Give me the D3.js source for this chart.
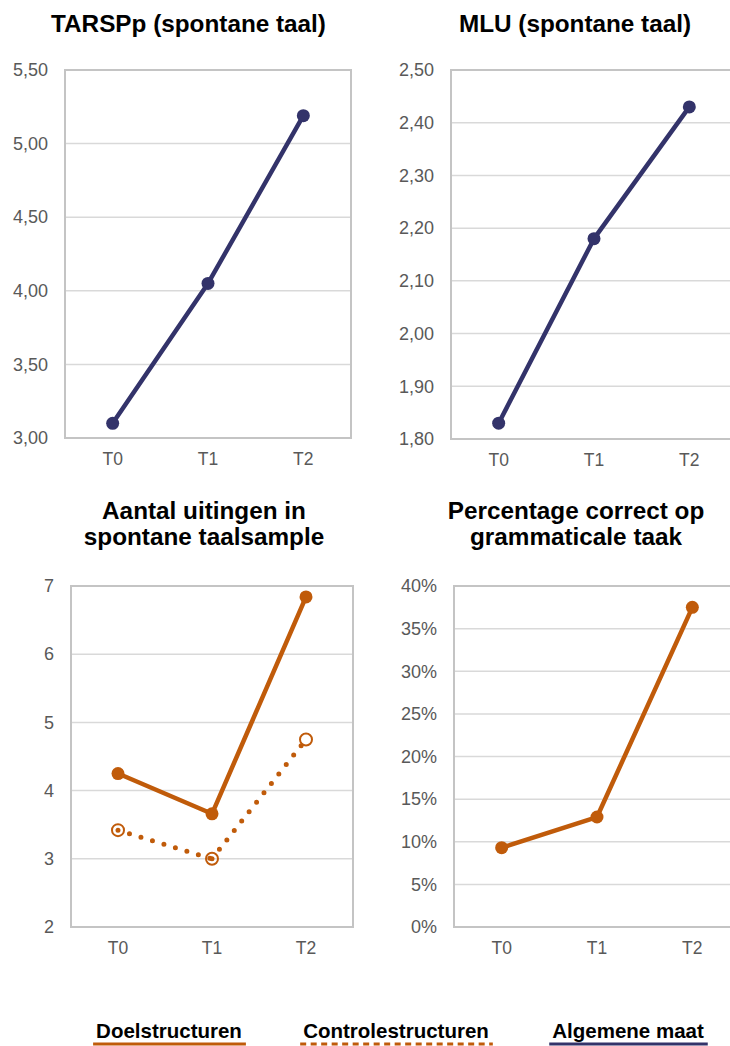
<!DOCTYPE html>
<html>
<head>
<meta charset="utf-8">
<script src="https://cdn.jsdelivr.net/npm/d3@7"></script>
<style>
  html, body { margin: 0; padding: 0; background: #fff; }
  svg { display: block; font-family: "Liberation Sans", Arial, sans-serif; }
</style>
</head>
<body>
<svg id="chart" width="730" height="1046"></svg>
<script>
// data
const timePoints = ['T0', 'T1', 'T2'];
const tarspValues = [3.10, 4.05, 5.19];
const mluValues = [1.83, 2.18, 2.43];
const doelUitingen = [4.25, 3.66, 6.84];
const controleUitingen = [3.42, 3.00, 4.75];
const grammaticaCorrect = [0.093, 0.129, 0.375];

const tarspTicks = [3.0, 3.5, 4.0, 4.5, 5.0, 5.5];
const mluTicks = [1.8, 1.9, 2.0, 2.1, 2.2, 2.3, 2.4, 2.5];
const uitingenTicks = [2, 3, 4, 5, 6, 7];
const percentTicks = [0, 0.05, 0.10, 0.15, 0.20, 0.25, 0.30, 0.35, 0.40];

const legendLabels = ['Doelstructuren', 'Controlestructuren', 'Algemene maat'];

const orange = '#c05b0a';
const navy = '#33336a';
const gray = '#595959';

const svg = d3.select('#chart');

const comma2 = (v) => d3.format('.2f')(v).replace('.', ',');
const pct = d3.format('.0%');

function drawPanel({ box, title, titleX, titleY, ticks, fmt, series }) {
    const [x0, x1, y0, y1] = box;
    const g = svg.append('g');

    const x = d3.scaleBand().domain(timePoints).range([x0, x1]);
    const y = d3.scaleLinear().domain(d3.extent(ticks)).range([y1, y0]);

    // gridlines
    g.selectAll('.grid')
        .data(ticks.slice(1, -1))
        .join('line')
        .attr('x1', x0).attr('x2', x1)
        .attr('y1', (d) => y(d)).attr('y2', (d) => y(d))
        .attr('stroke', '#d9d9d9')
        .attr('stroke-width', 1.5);

    // plot frame
    g.append('rect')
        .attr('x', x0).attr('y', y0)
        .attr('width', x1 - x0).attr('height', y1 - y0)
        .attr('fill', 'none')
        .attr('stroke', '#c4c4c4')
        .attr('stroke-width', 2);

    // y axis labels
    const yAxis = d3.axisLeft(y).tickValues(ticks).tickFormat(fmt).tickSize(0).tickPadding(17);
    g.append('g')
        .attr('transform', `translate(${x0},0)`)
        .call(yAxis)
        .call((s) => s.select('.domain').remove())
        .selectAll('text')
        .attr('fill', gray)
        .style('font-size', '18px')
        .style('font-family', '"Liberation Sans", Arial, sans-serif');

    // x axis labels
    const xAxis = d3.axisBottom(x).tickSize(0).tickPadding(15);
    g.append('g')
        .attr('transform', `translate(0,${y1})`)
        .call(xAxis)
        .call((s) => s.select('.domain').remove())
        .selectAll('text')
        .attr('fill', gray)
        .style('font-size', '17.5px')
        .style('font-family', '"Liberation Sans", Arial, sans-serif');

    // title
    g.append('text')
        .attr('text-anchor', 'middle')
        .attr('font-weight', 'bold')
        .style('font-size', '24.3px')
        .attr('fill', '#000')
        .selectAll('tspan')
        .data(title)
        .join('tspan')
        .attr('x', titleX)
        .attr('y', (d, i) => titleY + i * 26)
        .text((d) => d);

    const line = d3.line()
        .x((d, i) => x(timePoints[i]) + x.bandwidth() / 2)
        .y((d) => y(d));

    series.forEach((s) => {
        const pts = s.values.map((v, i) => [x(timePoints[i]) + x.bandwidth() / 2, y(v)]);
        if (s.dotted) {
            // each segment starts its own dot pattern
            d3.pairs(pts).forEach((pair) => {
                g.append('path')
                    .attr('d', d3.line()(pair))
                    .attr('fill', 'none')
                    .attr('stroke', s.color)
                    .attr('stroke-width', 5)
                    .attr('stroke-linecap', 'round')
                    .attr('stroke-dasharray', '0 12');
            });
            g.selectAll(null)
                .data(pts)
                .join('circle')
                .attr('cx', (d) => d[0]).attr('cy', (d) => d[1])
                .attr('r', 6)
                .attr('fill', 'none')
                .attr('stroke', s.color)
                .attr('stroke-width', 2);
        } else {
            g.append('path')
                .datum(s.values)
                .attr('d', line)
                .attr('fill', 'none')
                .attr('stroke', s.color)
                .attr('stroke-width', 4.5)
                .attr('stroke-linejoin', 'round');
            g.selectAll(null)
                .data(pts)
                .join('circle')
                .attr('cx', (d) => d[0]).attr('cy', (d) => d[1])
                .attr('r', 6.5)
                .attr('fill', s.color);
        }
    });
}

drawPanel({
    box: [65, 351, 70, 438],
    title: ['TARSPp (spontane taal)'],
    titleX: 188.5,
    titleY: 32,
    ticks: tarspTicks,
    fmt: comma2,
    series: [{ values: tarspValues, color: navy }]
});

drawPanel({
    box: [451, 737, 70, 439],
    title: ['MLU (spontane taal)'],
    titleX: 575,
    titleY: 32,
    ticks: mluTicks,
    fmt: comma2,
    series: [{ values: mluValues, color: navy }]
});

drawPanel({
    box: [71, 353, 586, 927],
    title: ['Aantal uitingen in', 'spontane taalsample'],
    titleX: 204,
    titleY: 519,
    ticks: uitingenTicks,
    fmt: d3.format('d'),
    series: [
        { values: controleUitingen, color: orange, dotted: true },
        { values: doelUitingen, color: orange }
    ]
});

drawPanel({
    box: [454, 740, 586, 927],
    title: ['Percentage correct op', 'grammaticale taak'],
    titleX: 576,
    titleY: 519,
    ticks: percentTicks,
    fmt: pct,
    series: [{ values: grammaticaCorrect, color: orange }]
});

// legend
const legendX = [169, 396, 628];
const legendStyles = [
    { color: orange, dash: null },
    { color: orange, dash: '6 4.5' },
    { color: navy, dash: null }
];
const legend = svg.append('g')
    .selectAll('g')
    .data(legendLabels)
    .join('g')
    .attr('transform', (d, i) => `translate(${legendX[i]},1038)`);

legend.append('text')
    .attr('text-anchor', 'middle')
    .attr('font-weight', 'bold')
    .style('font-size', '20.5px')
    .attr('fill', '#000')
    .text((d) => d);

legend.each(function (d, i) {
    const w = this.querySelector('text').getComputedTextLength();
    d3.select(this).append('line')
        .attr('x1', -w / 2 - 3).attr('x2', w / 2 + 4)
        .attr('y1', 6).attr('y2', 6)
        .attr('stroke', legendStyles[i].color)
        .attr('stroke-width', 3)
        .attr('stroke-dasharray', legendStyles[i].dash);
});
</script>
</body>
</html>
